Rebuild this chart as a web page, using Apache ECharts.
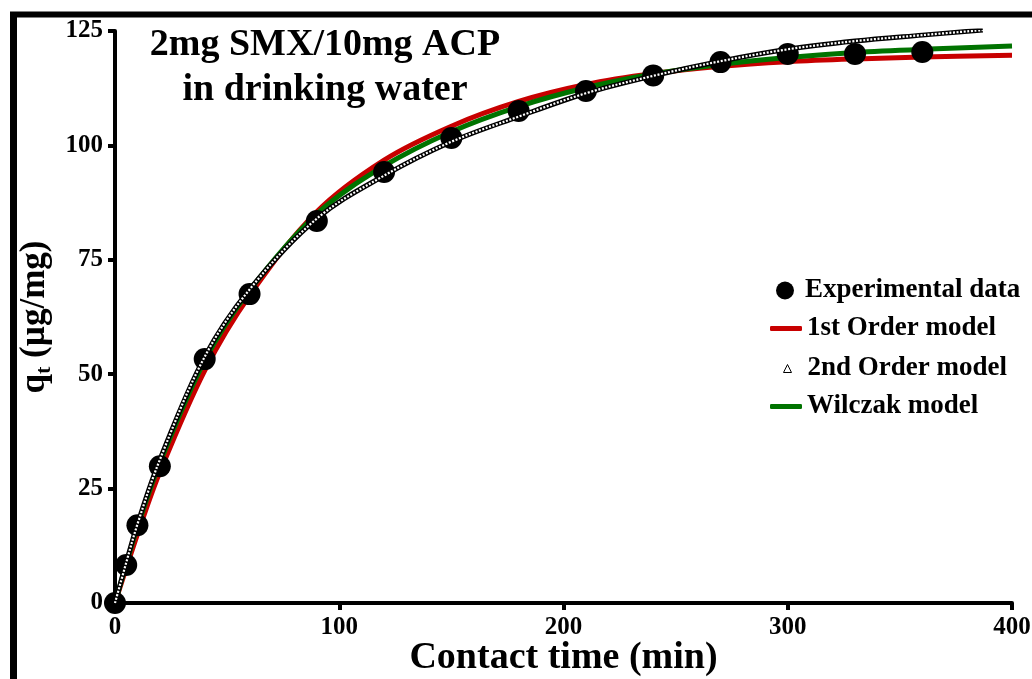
<!DOCTYPE html>
<html>
<head>
<meta charset="utf-8">
<script src="https://cdn.jsdelivr.net/npm/echarts@6/dist/echarts.min.js"></script>
<style>
  html, body { margin: 0; padding: 0; background: #fff; }
  #chart { width: 1032px; height: 679px; }
</style>
</head>
<body>
<div id="chart"></div>
<script>
// Contact time (min) for measured points and model curves
const timeMeasured = [0, 5, 10, 20, 40, 60, 90, 120, 150, 180, 210, 240, 270, 300, 330, 360];
const qMeasured   = [0, 8.3, 17.0, 29.9, 53.3, 67.5, 83.5, 94.2, 101.6, 107.5, 111.9, 115.3, 118.2, 120.0, 120.0, 120.4];

const timeModel   = [0, 5, 10, 20, 40, 60, 90, 120, 150, 180, 210, 240, 270, 300, 330, 360, 400];
const qFirstOrder = [0, 7.6, 15.0, 28.6, 50.8, 67.2, 85.5, 96.8, 104.2, 109.6, 113.3, 115.7, 117.3, 118.3, 118.9, 119.3, 119.7];
const qWilczak    = [0, 8.5, 16.6, 30.6, 53.0, 68.3, 85.0, 95.5, 103.0, 108.5, 112.6, 115.6, 117.7, 119.2, 120.3, 121.0, 121.7];

const timeSecond  = [0, 5, 10, 20, 40, 60, 90, 120, 150, 180, 210, 240, 270, 300, 330, 360, 387];
const qSecond     = [0, 8.8, 17.2, 31.3, 53.8, 68.5, 84.0, 93.4, 100.8, 106.3, 111.4, 115.2, 118.4, 121.0, 122.8, 124.1, 125.2];

const xTicks = { min: 0, max: 400, step: 100 };
const yTicks = { min: 0, max: 125, step: 25 };

const seriesNames = ['Experimental data', '1st Order model', '2nd Order model', 'Wilczak model'];
const titleLines = ['2mg SMX/10mg ACP', 'in drinking water'];

const pairs = (xs, ys) => xs.map((x, i) => [x, ys[i]]);

const serif = '"Liberation Serif", "Times New Roman", serif';
const RED = '#c80000';
const GREEN = '#007300';

const chart = echarts.init(document.getElementById('chart'), null, { renderer: 'canvas' });

function legendBox(name, top, left, icon, w, h, color, pad, extra) {
  return Object.assign({
    data: [{ name: name, icon: icon, itemStyle: { color: color } }],
    left: left, top: top, orient: 'vertical',
    itemWidth: w, itemHeight: h, padding: 0, selectedMode: false,
    textStyle: { fontFamily: serif, fontWeight: 'bold', fontSize: 27, color: '#000', padding: [0, 0, 0, pad] }
  }, extra || {});
}

chart.setOption({
  animation: false,
  backgroundColor: '#fff',
  title: {
    text: titleLines.join('\n'),
    left: 320, top: 18, textAlign: 'center',
    textStyle: { fontFamily: serif, fontWeight: 'bold', fontSize: 38, lineHeight: 45, color: '#000' }
  },
  grid: { left: 115, right: 20, top: 31, bottom: 76, outerBoundsMode: 'none', containLabel: false },
  legend: [
    legendBox(seriesNames[0], 277, 776, 'circle', 18, 18, '#000', 6),
    legendBox(seriesNames[1], 315, 770, 'roundRect', 32, 5, RED, 0),
    legendBox(seriesNames[2], 355, 783, 'triangle', 8, 8, '#fff', 11,
      { itemStyle: { borderColor: '#000', borderWidth: 1 } }),
    legendBox(seriesNames[3], 393, 770, 'roundRect', 32, 5, GREEN, 0)
  ],
  xAxis: {
    type: 'value', min: xTicks.min, max: xTicks.max, interval: xTicks.step,
    name: 'Contact time (min)', nameLocation: 'middle', nameGap: 36, nameMoveOverlap: false,
    nameTextStyle: { fontFamily: serif, fontWeight: 'bold', fontSize: 38, color: '#000' },
    axisLine: { lineStyle: { color: '#000', width: 4 } },
    axisTick: { show: true, length: 7, lineStyle: { color: '#000', width: 4 } },
    axisLabel: { fontFamily: serif, fontWeight: 'bold', fontSize: 25, color: '#000', margin: 12 },
    splitLine: { show: false }
  },
  yAxis: {
    type: 'value', min: yTicks.min, max: yTicks.max, interval: yTicks.step,
    name: '{q|q}{t|t}{q| (µg/mg)}', nameLocation: 'middle', nameGap: 60, nameRotate: 90, nameMoveOverlap: false,
    nameTextStyle: {
      rich: {
        q: { fontFamily: serif, fontWeight: 'bold', fontSize: 35, color: '#000' },
        t: { fontFamily: serif, fontWeight: 'bold', fontSize: 22, color: '#000', verticalAlign: 'bottom', padding: [18, 0, 0, 0] }
      }
    },
    axisLine: { show: true, lineStyle: { color: '#000', width: 4 } },
    axisTick: { show: true, length: 7, lineStyle: { color: '#000', width: 4 } },
    axisLabel: { fontFamily: serif, fontWeight: 'bold', fontSize: 25, color: '#000', margin: 12 },
    splitLine: { show: false }
  },
  series: [
    {
      name: seriesNames[1], type: 'line', data: pairs(timeModel, qFirstOrder),
      smooth: 0.35, symbol: 'none', z: 2,
      lineStyle: { color: RED, width: 5 }, itemStyle: { color: RED }
    },
    {
      name: seriesNames[3], type: 'line', data: pairs(timeModel, qWilczak),
      smooth: 0.35, symbol: 'none', z: 3,
      lineStyle: { color: GREEN, width: 5 }, itemStyle: { color: GREEN }
    },
    {
      name: seriesNames[0], type: 'scatter', data: pairs(timeMeasured, qMeasured),
      symbol: 'circle', symbolSize: 22, z: 4,
      itemStyle: { color: '#000', opacity: 1 }
    },
    {
      name: seriesNames[2], type: 'line', data: pairs(timeSecond, qSecond),
      smooth: 0.35, symbol: 'none', z: 5,
      lineStyle: { color: '#000', width: 5 }, itemStyle: { color: '#000' }
    },
    {
      // open triangle markers along the 2nd order curve
      name: seriesNames[2] + ' markers', type: 'line', data: pairs(timeSecond, qSecond),
      smooth: 0.35, symbol: 'none', z: 6, silent: true,
      lineStyle: { color: '#fff', width: 2.2, type: [2, 1.6] }
    }
  ],
  graphic: [
    { type: 'line', shape: { x1: 13.5, y1: 12, x2: 13.5, y2: 679 }, style: { stroke: '#000', lineWidth: 7 }, z: 100 },
    { type: 'line', shape: { x1: 10, y1: 14.5, x2: 1032, y2: 14.5 }, style: { stroke: '#000', lineWidth: 6 }, z: 100 }
  ]
});
</script>
</body>
</html>
